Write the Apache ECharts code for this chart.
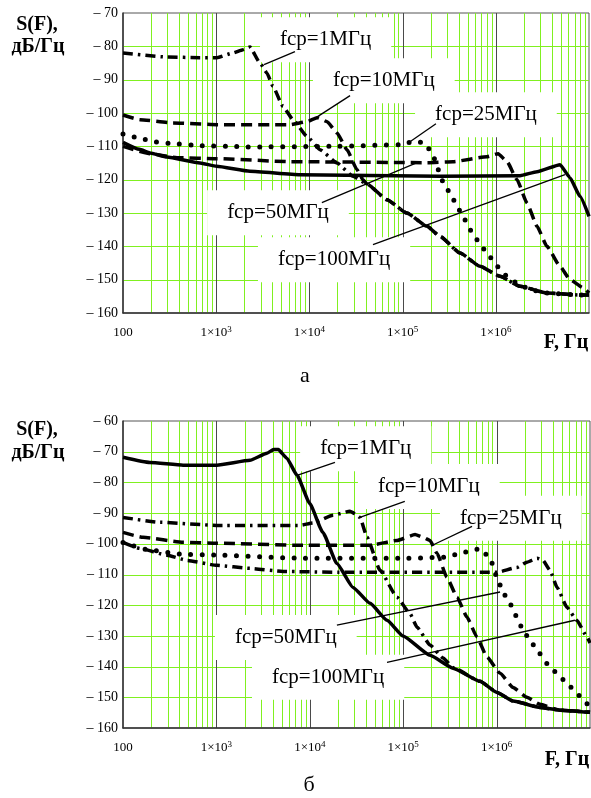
<!DOCTYPE html>
<html>
<head>
<meta charset="utf-8">
<script src="https://cdn.jsdelivr.net/npm/echarts@6/dist/echarts.min.js"></script>
<style>
  html, body { margin: 0; padding: 0; background: #fff; }
  #c { width: 591px; height: 798px; }
</style>
</head>
<body>
<div id="c"></div>
<script>
// Frequency axis range, Hz
const fMin = 100;
const fMax = 1e7;

// Decade and minor grid frequencies
const decadeFreqs = [1e3, 1e4, 1e5, 1e6];
const minorFreqs = [
  200, 300, 400, 500, 600, 700, 800, 900,
  2000, 3000, 4000, 5000, 6000, 7000, 8000, 9000,
  20000, 30000, 40000, 50000, 60000, 70000, 80000, 90000,
  2e5, 3e5, 4e5, 5e5, 6e5, 7e5, 8e5, 9e5,
  2e6, 3e6, 4e6, 5e6, 6e6, 7e6, 8e6, 9e6
];

// Level grid, dB/Hz
const levelTicksA = [-150, -140, -130, -120, -110, -100, -90, -80];
const levelTicksB = [-150, -140, -130, -120, -110, -100, -90, -80, -70];

// Spectral density levels, dB/Hz, panel "а"
const yMinA = -160, yMaxA = -70;
const a_fcp1 = [[100,-82],[297,-83.2],[670,-83.4],[1020,-83.4],[1510,-82],[1940,-81],[2300,-80.2],[2950,-85],[3500,-88],[4060,-92],[5200,-98],[6670,-102],[9400,-107],[13000,-111],[19800,-115],[29400,-119],[41500,-121.3],[68000,-126],[111000,-130],[183000,-134],[252000,-137],[413000,-142],[677000,-146],[1.11e6,-149],[1.82e6,-152],[3.54e6,-154],[8e6,-154.6],[1e7,-154.6]];
const a_fcp10 = [[100,-100.6],[152,-102],[343,-103],[1020,-103.5],[6200,-103.5],[9400,-102.6],[12100,-101.4],[15500,-102.6],[19800,-106],[25300,-111],[32400,-117],[37600,-120],[41500,-121.3],[68000,-126],[111000,-130],[183000,-134],[252000,-137],[413000,-142],[677000,-146],[1.11e6,-149],[1.82e6,-152],[3.54e6,-154],[8e6,-154.6],[1e7,-154.6]];
const a_fcp25 = [[100,-106.3],[145,-107.4],[210,-108.6],[343,-109.2],[670,-109.8],[1510,-110],[2140,-110.2],[20000,-110],[93700,-109.5],[129000,-108.6],[166000,-108.8],[188000,-110.5],[212000,-113],[271000,-120.5],[322000,-124],[393000,-128.5],[444000,-131],[528000,-135],[628000,-138],[805000,-142],[1.03e6,-146],[1.32e6,-149],[1.69e6,-151],[2.33e6,-153],[3.54e6,-154],[8e6,-154.6],[1e7,-154.6]];
const a_fcp50 = [[100,-110],[195,-112.2],[380,-113.4],[1020,-113.7],[6200,-114.6],[183000,-114.9],[348000,-114.6],[805000,-113.1],[1.06e6,-112.2],[1.32e6,-114.6],[1.69e6,-120],[2.16e6,-127],[2.77e6,-134],[3.54e6,-140],[4.89e6,-146],[6.25e6,-150],[8.6e6,-152.4],[1e7,-154]];
const a_fcp100 = [[100,-108.8],[150,-110.9],[195,-112],[296,-113.2],[670,-115],[1010,-116],[2300,-117.5],[7900,-118.5],[252000,-119],[1.82e6,-118.8],[2.77e6,-117.6],[4.89e6,-115.5],[6.25e6,-119.4],[8e6,-125],[1e7,-131]];

// Spectral density levels, dB/Hz, panel "б"
const yMinB = -160, yMaxB = -60;
const b_fcp1 = [[100,-71.8],[194,-73.5],[440,-74.4],[1010,-74.4],[2290,-72.8],[3480,-70.5],[4100,-69.3],[4600,-69.3],[5700,-72.2],[7300,-77.7],[10000,-86.9],[13800,-96.3],[19500,-106.4],[29000,-114.2],[44200,-119.4],[67100,-124.9],[99500,-130],[194000,-136.3],[341000,-140.5],[664000,-144.8],[1.01e6,-148.4],[1.5e6,-151.2],[2.92e6,-153.3],[4.78e6,-154.2],[1e7,-154.9]];
const b_fcp10 = [[100,-91.4],[249,-93],[1010,-94],[7850,-94],[10800,-93.2],[17700,-90.7],[26900,-89.4],[31000,-90.3],[34400,-91.4],[41000,-97.8],[56400,-108.6],[85900,-117.4],[118000,-122.7],[141000,-127.2],[194000,-133],[267000,-137.2],[341000,-140.3],[664000,-144.8],[1.01e6,-148.4],[1.5e6,-151.2],[2.92e6,-153.3],[4.78e6,-154.2],[1e7,-154.9]];
const b_fcp25 = [[100,-96.3],[164,-97.9],[440,-99.5],[1010,-99.8],[7850,-100.5],[44200,-100.5],[85900,-98.9],[134000,-97],[163000,-97.9],[194000,-98.9],[230000,-103.1],[294000,-110.9],[377000,-117.4],[482000,-123.9],[617000,-130.4],[789000,-136.9],[1.09e6,-142.2],[1.5e6,-146.8],[2.11e6,-150],[2.92e6,-152.3],[4.78e6,-154.2],[1e7,-154.9]];
const b_fcp50 = [[100,-99.6],[194,-102.1],[440,-103.4],[1010,-103.7],[7850,-104.7],[99500,-104.7],[294000,-104.4],[405000,-103.1],[558000,-102.1],[664000,-101.5],[849000,-104.7],[1.01e6,-110.9],[1.17e6,-115.8],[1.39e6,-119.5],[1.65e6,-123.9],[1.92e6,-128.2],[2.28e6,-131.4],[2.71e6,-134.7],[3.47e6,-139],[4.44e6,-142.2],[5.67e6,-145.5],[7.26e6,-148.8],[8.84e6,-151.6],[1e7,-153]];
const b_fcp100 = [[100,-99.5],[152,-101.5],[296,-103.7],[484,-105.4],[1010,-107],[2290,-108],[5170,-109],[20000,-109.3],[1.01e6,-109.3],[1.65e6,-107.7],[2.11e6,-106],[2.71e6,-104.7],[3.14e6,-105.4],[3.73e6,-108.6],[4.44e6,-114.2],[5.67e6,-120.7],[7.26e6,-125],[9.3e6,-130.4],[1e7,-132.3]];

// Curve captions: text, text anchor (left, middle) and leader line ends, in data units
const labelTexts = ['fср=1МГц', 'fср=10МГц', 'fср=25МГц', 'fср=50МГц', 'fср=100МГц'];
const labelPosA = [[4840,-78],[17900,-90.3],[223000,-100.5],[1310,-129.9],[4600,-144]];
const leaderFromA = [[7000,-81.6],[27300,-94.8],[228000,-103.2],[13600,-126.9],[48100,-139.5]];
const leaderToA = [[3260,-85.5],[10900,-102],[120000,-108.6],[143000,-114.9],[5.52e6,-118.5]];
const labelPosB = [[12900,-69],[53700,-81.3],[405000,-91.7],[1580,-130.5],[3940,-143.5]];
const leaderFromB = [[18600,-73.5],[104000,-86.2],[546000,-94.3],[19500,-126.5],[67100,-138.6]];
const leaderToB = [[7300,-77.7],[34400,-91.4],[208000,-100.4],[1.09e6,-115.7],[6.9e6,-124.9]];

const GREEN = '#80f020';
const DECADE = '#4a4a4a';
const SERIF = '"Liberation Serif", "Times New Roman", serif';

const SOLID = { type: 'solid', width: 3.5 };
const DASH = { type: [11, 6], width: 3.5 };
const DASHDOT = { type: [10, 5, 2.5, 5], width: 3.5 };
const DOT = { type: [0, 11.5], width: 5, cap: 'round' };

function fmtFreq(v) {
  const e = Math.round(Math.log10(v));
  if (e >= 7) return '';
  if (e === 2) return '{b|100}';
  return '{b|1×10}{s|' + e + '}';
}

function xAxisCfg(g) {
  return {
    type: 'log', logBase: 10, min: fMin, max: fMax, gridIndex: g,
    axisLine: { show: true, onZero: false, lineStyle: { color: '#333', width: 1.5 } },
    axisTick: { show: false },
    splitLine: { show: false },
    minorTick: { show: false },
    minorSplitLine: { show: false },
    axisLabel: {
      margin: 12, formatter: fmtFreq, showMaxLabel: false, color: '#000',
      rich: {
        b: { fontFamily: SERIF, fontSize: 13, lineHeight: 16, color: '#000' },
        s: { fontFamily: SERIF, fontSize: 9, lineHeight: 9, verticalAlign: 'top', color: '#000' }
      }
    }
  };
}

function yAxisCfg(g, lo, hi) {
  return {
    type: 'value', min: lo, max: hi, interval: 10, gridIndex: g,
    axisLine: { show: true, onZero: false, lineStyle: { color: '#333', width: 1.5 } },
    axisTick: { show: false },
    splitLine: { show: false },
    axisLabel: {
      margin: 5, color: '#000', fontFamily: SERIF, fontSize: 14,
      formatter: v => '– ' + Math.abs(v)
    }
  };
}

function curve(name, data, g, style) {
  return {
    type: 'line', name, data, xAxisIndex: g, yAxisIndex: g,
    showSymbol: false, symbol: 'none', smooth: 0.15, smoothMonotone: 'x',
    silent: true, z: 3,
    lineStyle: Object.assign({ color: '#000' }, style)
  };
}

// Crisp 1px grid lines at given frequencies (vertical) or levels (horizontal)
function gridLines(g, values, vertical, color, yRef) {
  return {
    type: 'custom', xAxisIndex: g, yAxisIndex: g, z: 0, silent: true,
    data: values.map(v => vertical ? [v, yRef] : [fMin, v]),
    renderItem: (params, api) => {
      const cs = params.coordSys;
      const p = api.coord([api.value(0), api.value(1)]);
      if (vertical) {
        const x = Math.round(p[0]) + 0.5;
        return { type: 'line', shape: { x1: x, y1: cs.y, x2: x, y2: cs.y + cs.height },
                 style: { stroke: color, lineWidth: 1 } };
      }
      const y = Math.round(p[1]) + 0.5;
      return { type: 'line', shape: { x1: cs.x, y1: y, x2: cs.x + cs.width, y2: y },
               style: { stroke: color, lineWidth: 1 } };
    }
  };
}

const chart = echarts.init(document.getElementById('c'), null, { renderer: 'canvas' });

chart.setOption({
  animation: false,
  backgroundColor: '#fff',
  grid: [
    { left: 123, top: 13, width: 466, height: 300, show: true, borderColor: '#555', borderWidth: 1 },
    { left: 123, top: 421, width: 467, height: 307, show: true, borderColor: '#555', borderWidth: 1 }
  ],
  xAxis: [xAxisCfg(0), xAxisCfg(1)],
  yAxis: [yAxisCfg(0, yMinA, yMaxA), yAxisCfg(1, yMinB, yMaxB)],
  series: [
    gridLines(0, minorFreqs, true, GREEN, yMinA),
    gridLines(0, levelTicksA, false, GREEN),
    gridLines(0, decadeFreqs, true, DECADE, yMinA),
    gridLines(1, minorFreqs, true, GREEN, yMinB),
    gridLines(1, levelTicksB, false, GREEN),
    gridLines(1, decadeFreqs, true, DECADE, yMinB),
    curve('а fср=1МГц', a_fcp1, 0, DASHDOT),
    curve('а fср=10МГц', a_fcp10, 0, DASH),
    curve('а fср=25МГц', a_fcp25, 0, DOT),
    curve('а fср=50МГц', a_fcp50, 0, DASH),
    curve('а fср=100МГц', a_fcp100, 0, SOLID),
    curve('б fср=1МГц', b_fcp1, 1, SOLID),
    curve('б fср=10МГц', b_fcp10, 1, DASHDOT),
    curve('б fср=25МГц', b_fcp25, 1, DASH),
    curve('б fср=50МГц', b_fcp50, 1, DOT),
    curve('б fср=100МГц', b_fcp100, 1, DASHDOT)
  ]
});

// Captions with white boxes and leader lines, placed through the axes
const graphics = [];
function addCaptions(g, pos, from, to) {
  for (let i = 0; i < labelTexts.length; i++) {
    const p = chart.convertToPixel({ gridIndex: g }, pos[i]);
    graphics.push({
      type: 'text', z: 1, silent: true,
      style: {
        text: labelTexts[i], x: p[0] - 20, y: p[1],
        font: '21px ' + SERIF, fill: '#000',
        backgroundColor: '#fff', padding: [12, 20, 12, 20],
        align: 'left', verticalAlign: 'middle'
      }
    });
    const a = chart.convertToPixel({ gridIndex: g }, from[i]);
    const b = chart.convertToPixel({ gridIndex: g }, to[i]);
    graphics.push({
      type: 'line', z: 4, silent: true,
      shape: { x1: a[0], y1: a[1], x2: b[0], y2: b[1] },
      style: { stroke: '#000', lineWidth: 1.3 }
    });
  }
}
addCaptions(0, labelPosA, leaderFromA, leaderToA);
addCaptions(1, labelPosB, leaderFromB, leaderToB);

function label(text, x, y, font) {
  graphics.push({
    type: 'text', z: 5, silent: true,
    style: { text, x, y, font, fill: '#000', align: 'center', verticalAlign: 'middle' }
  });
}
const TITLE_FONT = 'bold 20px ' + SERIF;
label('S(F),', 37, 25, TITLE_FONT);
label('дБ/Гц', 38, 47, TITLE_FONT);
label('F, Гц', 566, 343, TITLE_FONT);
label('а', 305, 376, '22px ' + SERIF);
label('S(F),', 37, 430, TITLE_FONT);
label('дБ/Гц', 38, 453, TITLE_FONT);
label('F, Гц', 567, 760, TITLE_FONT);
label('б', 309, 785, '22px ' + SERIF);

chart.setOption({ graphic: graphics });
</script>
</body>
</html>
